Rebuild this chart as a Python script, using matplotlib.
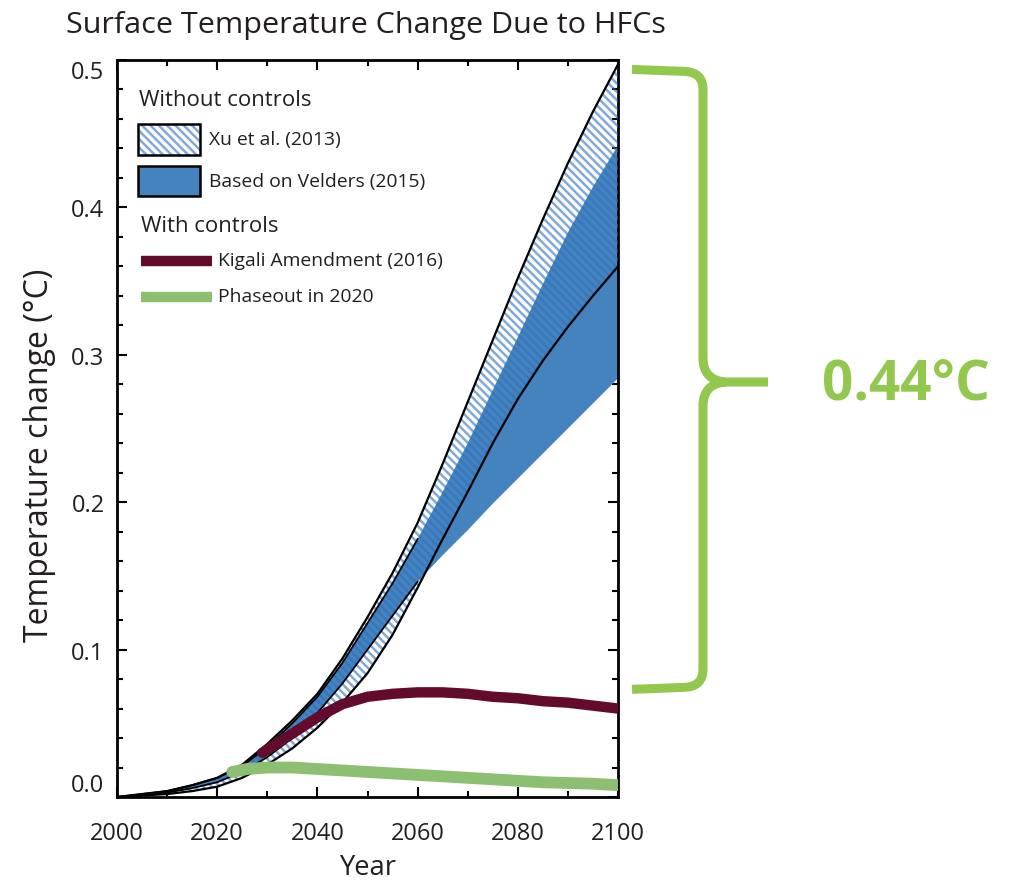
import numpy as np
import matplotlib
matplotlib.use('Agg')
import matplotlib.pyplot as plt
from matplotlib.path import Path
from matplotlib.patches import PathPatch, Rectangle
from matplotlib.lines import Line2D
from matplotlib.transforms import IdentityTransform
from matplotlib.ticker import MultipleLocator

plt.rcParams['font.family'] = ['Open Sans', 'DejaVu Sans']
plt.rcParams['hatch.linewidth'] = 1.8

# ---------------- data ----------------
years = np.arange(2000, 2101, 5)
xu_upper = np.array([0.000, 0.002, 0.004, 0.008, 0.013, 0.022, 0.036, 0.052, 0.070, 0.094, 0.122,
                     0.152, 0.186, 0.226, 0.268, 0.310, 0.352, 0.392, 0.430, 0.465, 0.497])
xu_lower = np.array([0.000, 0.001, 0.002, 0.004, 0.007, 0.013, 0.022, 0.033, 0.047, 0.064, 0.084,
                     0.110, 0.142, 0.175, 0.207, 0.240, 0.270, 0.296, 0.319, 0.340, 0.360])
velders_upper = np.array([0.000, 0.002, 0.004, 0.008, 0.013, 0.021, 0.034, 0.050, 0.068, 0.091, 0.118,
                          0.145, 0.175, 0.207, 0.240, 0.276, 0.312, 0.348, 0.383, 0.414, 0.442])
velders_lower = np.array([0.000, 0.001, 0.003, 0.006, 0.010, 0.017, 0.027, 0.040, 0.057, 0.077, 0.100,
                          0.123, 0.146, 0.164, 0.181, 0.199, 0.216, 0.233, 0.250, 0.267, 0.284])

kigali_years = np.array([2029, 2035, 2040, 2045, 2050, 2055, 2060, 2065, 2070, 2075, 2080, 2085, 2090, 2095, 2100])
kigali = np.array([0.030, 0.043, 0.054, 0.063, 0.068, 0.070, 0.071, 0.071, 0.070, 0.068, 0.067, 0.065,
                   0.064, 0.062, 0.060])

phase_years = np.array([2023, 2026, 2030, 2035, 2040, 2045, 2050, 2055, 2060, 2065, 2070, 2075, 2080,
                        2085, 2090, 2095, 2100])
phaseout = np.array([0.017, 0.019, 0.020, 0.020, 0.019, 0.018, 0.017, 0.016, 0.015, 0.014, 0.013,
                     0.012, 0.011, 0.010, 0.0095, 0.009, 0.008])

xticks = [2000, 2020, 2040, 2060, 2080, 2100]
yticks = [0.0, 0.1, 0.2, 0.3, 0.4, 0.5]
reduction_label = "0.44°C"

title = "Surface Temperature Change Due to HFCs"
legend_head1 = "Without controls"
legend_head2 = "With controls"
lbl_xu = "Xu et al. (2013)"
lbl_velders = "Based on Velders (2015)"
lbl_kigali = "Kigali Amendment (2016)"
lbl_phase = "Phaseout in 2020"

# ---------------- style ----------------
BLUE = '#4583bf'
HATCH = (0.18, 0.44, 0.74, 0.6)
MAROON = '#630b2c'
GREEN_L = '#8dbf72'
GREEN_B = '#92c84d'
TXT = '#231f20'
HATCH_PAT = '\\\\\\\\'

W, H = 1013, 887
fig = plt.figure(figsize=(W / 100, H / 100), dpi=100)
AX_L, AX_R, AX_T, AX_B = 117, 618, 61, 798
ax = fig.add_axes([AX_L / W, 1 - AX_B / H, (AX_R - AX_L) / W, (AX_B - AX_T) / H])

ax.fill_between(years, velders_lower, velders_upper, facecolor=BLUE, edgecolor='none', lw=0, zorder=2)
ax.fill_between(years, xu_lower, xu_upper, facecolor='none', edgecolor=HATCH, hatch=HATCH_PAT, lw=0, zorder=3)
ax.plot(years, xu_upper, color='k', lw=1.6, zorder=4)
ax.plot(years, xu_lower, color='k', lw=1.6, zorder=4)
early = years <= 2060
ax.plot(years[early], velders_lower[early], color='k', lw=1.3, zorder=4)
ax.plot(years[early], velders_upper[early], color='k', lw=1.3, zorder=4)

ax.plot(phase_years, phaseout, color=GREEN_L, lw=8.5, solid_capstyle='round', zorder=5)
ax.plot(kigali_years, kigali, color=MAROON, lw=7.5, solid_capstyle='round', zorder=6)

ax.set_xlim(2000, 2100)
ax.set_ylim(0, 0.5)
ax.set_xticks(xticks)
ax.set_yticks(yticks)
ax.set_yticklabels([f"{v:.1f}" for v in yticks])
ax.xaxis.set_minor_locator(MultipleLocator(10))
ax.yaxis.set_minor_locator(MultipleLocator(0.02))
ax.tick_params(which='both', direction='in', top=True, right=True, width=1.5, color='k',
               labelcolor=TXT)
ax.tick_params(which='major', length=7.5)
ax.tick_params(which='minor', length=4.5)
ax.tick_params(axis='x', pad=17)
ax.tick_params(axis='y', pad=9)
for s in ax.spines.values():
    s.set_linewidth(2.0)

r = fig.canvas.get_renderer()


def width_of(t):
    return t.get_window_extent(r).width


def fit(t, target, vertical=False):
    bb = t.get_window_extent(r)
    w = bb.height if vertical else bb.width
    t.set_fontsize(t.get_fontsize() * target / w)


# tick label size from width of "2020" (~54 px)
tmp = fig.text(0, 0, "2020", fontsize=20)
tick_fs = 20 * 54 / width_of(tmp)
tmp.remove()
ax.tick_params(labelsize=tick_fs)
ylabs = ax.get_yticklabels()
ylabs[0].set_va('bottom')
ylabs[-1].set_va('top')

ax.set_xlabel("Year", fontsize=20, color=TXT, va='center')
ax.set_ylabel("Temperature change (°C)", fontsize=20, color=TXT, va='center')
fit(ax.xaxis.label, 57)
fit(ax.yaxis.label, 372, vertical=True)
ax.xaxis.set_label_coords(0.5, (AX_B - 868) / (AX_B - AX_T))
ax.yaxis.set_label_coords((40 - AX_L) / (AX_R - AX_L), (AX_B - 455) / (AX_B - AX_T))

t_title = fig.text(66 / W, 1 - 26 / H, title, fontsize=24, color=TXT, ha='left', va='center')
fit(t_title, 600)


# ---------------- legend (manual) ----------------
def axc(px, py):
    return ((px - AX_L) / (AX_R - AX_L), (AX_B - py) / (AX_B - AX_T))


def box(x0, y0, x1, y1):
    a0 = axc(x0, y1)
    a1 = axc(x1, y0)
    return a0, a1[0] - a0[0], a1[1] - a0[1]


a0, bw, bh = box(138, 125, 200, 156)
ax.add_patch(Rectangle(a0, bw, bh, transform=ax.transAxes, facecolor='white', edgecolor=HATCH,
                       hatch=HATCH_PAT, lw=0, zorder=7))
ax.add_patch(Rectangle(a0, bw, bh, transform=ax.transAxes, facecolor='none', edgecolor='k', lw=1.8, zorder=8))
a0, bw, bh = box(138, 167, 200, 197)
ax.add_patch(Rectangle(a0, bw, bh, transform=ax.transAxes, facecolor=BLUE, edgecolor='k', lw=1.8, zorder=8))

for y, col, lw in [(262, MAROON, 7.5), (298, GREEN_L, 7.5)]:
    p0 = axc(141, y)
    p1 = axc(212, y)
    ax.add_line(Line2D([p0[0], p1[0]], [p0[1], p1[1]], transform=ax.transAxes, color=col, lw=lw,
                       solid_capstyle='butt', zorder=8))

heads = []
for txt, px, py in [(legend_head1, 139, 100), (legend_head2, 141, 226)]:
    p = axc(px, py)
    heads.append(ax.text(p[0], p[1], txt, transform=ax.transAxes, fontsize=18, color=TXT,
                         ha='left', va='center', zorder=9))
hs = [18 * 172 / width_of(heads[0]), 18 * 137 / width_of(heads[1])]
for h in heads:
    h.set_fontsize(np.mean(hs))

entries = []
targets = []
for txt, px, py, tw in [(lbl_xu, 209, 140, 131), (lbl_velders, 209, 182, 213),
                        (lbl_kigali, 218, 261, 229), (lbl_phase, 218, 297, 155)]:
    p = axc(px, py)
    entries.append(ax.text(p[0], p[1], txt, transform=ax.transAxes, fontsize=16, color=TXT,
                           ha='left', va='center', zorder=9))
    targets.append(tw)
es = np.mean([16 * tw / width_of(e) for e, tw in zip(entries, targets)])
for e in entries:
    e.set_fontsize(es)

# ---------------- brace annotation ----------------
fig.canvas.draw()
top_disp = ax.transData.transform((2100, xu_upper[-1]))[1]
bot_disp = ax.transData.transform((2100, kigali.max()))[1]
y_top = H - top_disp + 5
y_bot = H - bot_disp - 3
y_mid = 383
x_arm, x_v, x_tip, rc = 632, 703, 768, 18


def P(x, y):
    return (x, H - y)


verts = [P(x_arm, y_top), P(x_v - rc, y_top + 2), P(x_v, y_top + 3), P(x_v, y_top + rc + 2),
         P(x_v, y_mid - 24), P(x_v, y_mid - 2), P(x_v + 22, y_mid), P(x_tip, y_mid),
         P(x_v + 22, y_mid), P(x_v, y_mid + 2), P(x_v, y_mid + 24),
         P(x_v, y_bot - rc - 2), P(x_v, y_bot - 3), P(x_v - rc, y_bot - 2), P(x_arm, y_bot)]
codes = [Path.MOVETO, Path.LINETO, Path.CURVE3, Path.CURVE3,
         Path.LINETO, Path.CURVE3, Path.CURVE3, Path.LINETO,
         Path.MOVETO, Path.CURVE3, Path.CURVE3,
         Path.LINETO, Path.CURVE3, Path.CURVE3, Path.LINETO]
fig.add_artist(PathPatch(Path(verts, codes), transform=IdentityTransform(), fill=False,
                         edgecolor=GREEN_B, lw=6.5, capstyle='butt', joinstyle='round'))

t_red = fig.text(906 / W, 1 - 385 / H, reduction_label, fontsize=40, fontweight='bold', color=GREEN_B,
                 ha='center', va='center')
fit(t_red, 168)

fig.savefig('out.png', dpi=100)
